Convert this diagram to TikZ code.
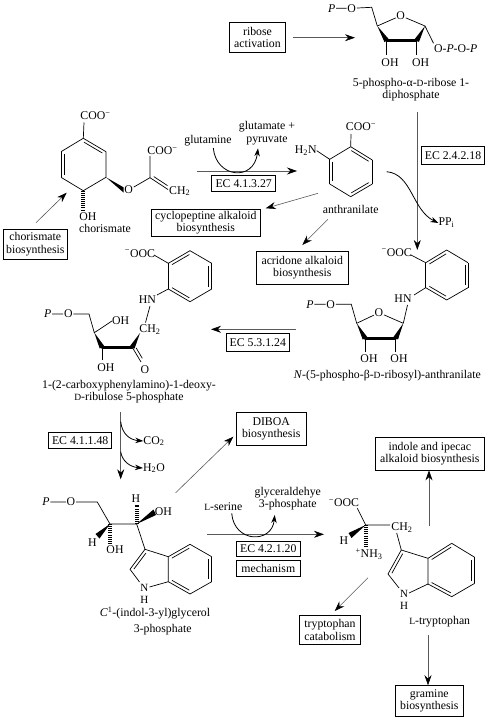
\documentclass[tikz,border=0pt]{standalone}
\usepackage{fontspec}
\setmainfont{Liberation Serif}
\usepackage{tikz}
\usetikzlibrary{arrows.meta,positioning,calc}
\newcommand{\smcap}[1]{{\fontsize{9.5}{9.5}\selectfont #1}}
\newcommand{\minus}{\textsuperscript{−}}
\newcommand{\dbond}[2]{\draw[bond] (#1) -- (#2); \draw[bond, shorten <=2.5pt, shorten >=2.5pt] ($(#1)!3pt!90:(#2)$) -- ($(#2)!3pt!-90:(#1)$);}
\newcommand{\wbond}[2]{\fill (#1) -- ($(#2)!2.6pt!90:(#1)$) -- ($(#2)!2.6pt!-90:(#1)$) -- cycle;}

\begin{document}
\begin{tikzpicture}[x=1pt, y=-1pt,
every node/.style={font=\fontsize{11.8}{12.4}\selectfont, text=black},
box/.style={draw, line width=0.8pt, align=center, inner sep=0pt},
lbl/.style={align=center, inner sep=0pt},
atom/.style={inner sep=0.6pt},
nh/.style={align=center, inner sep=0pt, font=\fontsize{11}{12}\selectfont},
bond/.style={line width=0.7pt},
bold/.style={line width=3pt, line cap=round},
hash/.style={line width=4pt, dash pattern=on 0.8pt off 1.3pt},
arrow/.style={-{Stealth[length=10pt,width=7pt,black]}, draw=black!65, line width=0.6pt},
curve/.style={-{Stealth[length=8pt,width=5.5pt,black]}, line width=0.8pt}
]
\useasboundingbox (0,0) rectangle (488,719);

% boxes
\node[box, minimum width=64.7, minimum height=30] (chobox) at (35.3,244) {chorismate\\biosynthesis};
\node[box, minimum width=56.4, minimum height=30] (ribbox) at (257.5,37.7) {ribose\\activation};
\node[box, minimum width=108.3, minimum height=27.7] (cycbox) at (205.8,222.8) {cyclopeptine alkaloid\\biosynthesis};
\node[box, minimum width=91.3, minimum height=33] (acrbox) at (302.3,267.5) {acridone alkaloid\\biosynthesis};
\node[box, minimum width=70.3, minimum height=32.7] (dibbox) at (271.2,428.7) {DIBOA\\biosynthesis};
\node[box, minimum width=108.3, minimum height=32.3] (indbox) at (429.8,453.8) {indole and ipecac\\alkaloid biosynthesis};
\node[box, minimum width=61.4, minimum height=29.7] (trpbox) at (330,629.8) {tryptophan\\catabolism};
\node[box, minimum width=68, minimum height=30.3] (grabox) at (429.3,700.8) {gramine\\biosynthesis};

% enzyme labels
\node[box, minimum width=64, minimum height=16] (ec1) at (243.7,183.7) {EC 4.1.3.27};
\node[box, minimum width=63.4, minimum height=17.3] (ec2) at (453,155.3) {EC 2.4.2.18};
\node[box, minimum width=63.7, minimum height=17.7] (ec3) at (257.8,342.2) {EC 5.3.1.24};
\node[box, minimum width=63, minimum height=16] (ec4) at (80.2,440.3) {EC 4.1.1.48};
\node[box, minimum width=63.3, minimum height=15.7] (ec5) at (268.3,548.8) {EC 4.2.1.20};
\node[box, minimum width=63.3, minimum height=16] (ec6) at (268.3,568) {mechanism};

% side products
\node[lbl] (glu) at (208,141) {glutamine};
\node[lbl] (gpy) at (267,133.3) {glutamate +\\pyruvate};
\node[lbl] (ppi) at (446.5,223) {PP\textsubscript{i}};
\node[lbl] (cotwo) at (154,441) {CO\textsubscript{2}};
\node[lbl] (htwo) at (154,468) {H\textsubscript{2}O};
\node[lbl] (ser) at (223.3,506.7) {\smcap{L}-serine};
\node[lbl] (gap) at (287.8,498.7) {glyceraldehye\\3-phosphate};

% captions
\node[lbl] (capcho) at (105,228.7) {chorismate};
\node[lbl] (capant) at (350.7,209.3) {anthranilate};
\node[lbl] (capprpp) at (411,89.5) {5-phospho-α-\smcap{D}-ribose 1-\\diphosphate};
\node[lbl] (capnpr) at (387.3,375.7) {\textit{N}-(5-phospho-β-\smcap{D}-ribosyl)-anthranilate};
\node[lbl] (capcdrp) at (129,391.5) {1-(2-carboxyphenylamino)-1-deoxy-\\\smcap{D}-ribulose 5-phosphate};
\node[lbl] (capigp) at (155,613.3) {\textit{C}\textsuperscript{1}-(indol-3-yl)glycerol};
\node[lbl, below=4.5pt of capigp.south, xshift=7.7pt] (capigpb) {3-phosphate};
\node[lbl] (captrp) at (439.7,621.3) {\smcap{L}-tryptophan};

% chorismate
\coordinate (c1) at (83.3,138.3);
\coordinate (c2) at (61,151.7);
\coordinate (c3) at (61,177.3);
\coordinate (c4) at (83.3,190.7);
\coordinate (c5) at (106,177.3);
\coordinate (c6) at (106,151.7);
\coordinate (c7) at (150,177.7);
\coordinate (c8) at (168,189.5);
\node[lbl] (ccoo) at (95.5,116) {COO\minus};
\node[lbl] (ccoob) at (162.5,151) {COO\minus};
\node[atom] (co) at (128.7,190) {O};
\node[lbl, anchor=west] (cch) at (169,191) {CH\textsubscript{2}};
\node[lbl] (coh) at (88,217) {OH};
\draw[bond] (c1) -- (84,122.5);
\draw[bond] (c1) -- (c2);
\dbond{c2}{c3}
\draw[bond] (c3) -- (c4) -- (c5) -- (c6);
\dbond{c6}{c1}
\fill (c5) -- ($(co.west)+(0,-2.6)$) -- ($(co.west)+(0,2.6)$) -- cycle;
\draw[bond] (co) -- (c7) -- (150,156);
\dbond{c7}{c8}
\draw[hash] (c4) -- (83.3,210);

% anthranilate
\coordinate (a1) at (350.7,146.7);
\coordinate (a2) at (329.7,159.3);
\coordinate (a3) at (329.7,184);
\coordinate (a4) at (350.7,196.7);
\coordinate (a5) at (372.3,184);
\coordinate (a6) at (372.3,160);
\node[lbl] (acoo) at (361,126.7) {COO\minus};
\node[lbl] (anh) at (305.7,150.7) {H\textsubscript{2}N};
\draw[bond] (a1) -- (351,134);
\draw[bond] (a2) -- (anh.east);
\draw[bond] (a1) -- (a2);
\dbond{a2}{a3}
\draw[bond] (a3) -- (a4);
\dbond{a4}{a5}
\draw[bond] (a5) -- (a6);
\dbond{a6}{a1}

% ribose phosphate
\coordinate (r1) at (425,26);
\coordinate (r2) at (416.7,40.7);
\coordinate (r3) at (386.7,40.7);
\coordinate (r4) at (377.3,26);
\coordinate (r5) at (371.7,7.3);
\node[atom] (rp) at (331.7,8.3) {\textit{P}};
\node[atom] (ro) at (351.7,8.3) {O};
\node[atom] (rq) at (400.7,15.7) {O};
\node[lbl] (rpp) at (455.7,48.7) {O-\textit{P}-O-\textit{P}};
\node[lbl] (roha) at (390,62.3) {OH};
\node[lbl] (rohb) at (420.7,62.3) {OH};
\draw[bond] (rp) -- (ro) -- (r5) -- (r4) -- (rq) -- (r1) -- (433.5,43.3);
\wbond{r4}{r3}
\draw[bold] (r3) -- (r2);
\wbond{r1}{r2}
\draw[bond] (r3) -- (386.7,55);
\draw[bond] (r2) -- (416.7,55);

% N-(5-phosphoribosyl)anthranilate
\coordinate (n1) at (425.7,262.7);
\coordinate (n2) at (446.7,250);
\coordinate (n3) at (468,262.7);
\coordinate (n4) at (468,287.7);
\coordinate (n5) at (446.7,300);
\coordinate (n6) at (425.7,287.7);
\coordinate (s1) at (403.3,323.3);
\coordinate (s2) at (395.7,338.3);
\coordinate (s3) at (365,338.3);
\coordinate (s4) at (356.7,323.3);
\coordinate (s5) at (351.3,304.3);
\node[lbl] (ncoo) at (396.7,252.3) {\minus OOC};
\node[lbl] (nhn) at (403,298.3) {HN};
\node[atom] (np) at (310,304.3) {\textit{P}};
\node[atom] (no) at (330.7,304.3) {O};
\node[atom] (nq) at (379,312.7) {O};
\node[lbl] (noha) at (369,359) {OH};
\node[lbl] (nohb) at (399,359) {OH};
\draw[bond] (n1) -- (411,255);
\draw[bond] (n6) -- (414,295);
\draw[bond] (407.5,305) -- (s1);
\draw[bond] (n1) -- (n6);
\draw[bond] (n2) -- (n3);
\dbond{n6}{n5}
\dbond{n4}{n3}
\draw[bond] (n5) -- (n4);
\dbond{n2}{n1}
\draw[bond] (np) -- (no) -- (s5) -- (s4) -- (nq) -- (s1);
\wbond{s4}{s3}
\draw[bold] (s3) -- (s2);
\wbond{s1}{s2}
\draw[bond] (s3) -- (365,351.5);
\draw[bond] (s2) -- (395.7,351.5);

% 1-(2-carboxyphenylamino)-1-deoxyribulose 5-phosphate
\coordinate (d1) at (168.3,263.3);
\coordinate (d2) at (190,250.7);
\coordinate (d3) at (211.7,263.3);
\coordinate (d4) at (211.7,289);
\coordinate (d5) at (190,301.7);
\coordinate (d6) at (168.3,289);
\coordinate (e1) at (94.3,332.7);
\coordinate (e2) at (102,347.3);
\coordinate (e3) at (132.3,347.3);
\coordinate (e4) at (140,333);
\coordinate (e5) at (89,314);
\coordinate (e6) at (141,362);
\node[lbl] (dcoo) at (140,253.3) {\minus OOC};
\node[lbl] (dhn) at (147.3,299.3) {HN};
\node[atom] (dp) at (47.7,314) {\textit{P}};
\node[atom] (do) at (68.3,314) {O};
\node[lbl] (doha) at (120.7,321) {OH};
\node[lbl] (dohb) at (106,367.7) {OH};
\node[atom] (dq) at (145,369.3) {O};
\node[lbl] (dch) at (150,329.3) {CH\textsubscript{2}};
\draw[bond] (d1) -- (154,255);
\draw[bond] (d6) -- (157,295);
\draw[bond] (150,306) -- (145.5,322.5);
\draw[bond] (d1) -- (d6);
\dbond{d6}{d5}
\draw[bond] (d5) -- (d4);
\dbond{d4}{d3}
\draw[bond] (d3) -- (d2);
\dbond{d2}{d1}
\draw[bond] (dp) -- (do) -- (e5) -- (e1) -- (doha.west);
\wbond{e1}{e2}
\draw[bold] (e2) -- (e3);
\wbond{e4}{e3}
\draw[bond] (e2) -- (102,360);
\dbond{e3}{e6}

% indol-3-yl glycerol phosphate
\coordinate (i1) at (168.3,556.7);
\coordinate (i2) at (190,544.3);
\coordinate (i3) at (211.7,556.7);
\coordinate (i4) at (211.7,581.7);
\coordinate (i5) at (190,594);
\coordinate (i6) at (168.3,581.7);
\coordinate (i7) at (145,549.3);
\coordinate (i8) at (130,569.3);
\coordinate (g1) at (97.3,502);
\coordinate (g2) at (110,524);
\coordinate (g3) at (136.7,524);
\node[atom] (gp) at (46,502) {\textit{P}};
\node[atom] (go) at (71,502) {O};
\node[lbl] (gha) at (136,498.3) {H};
\node[lbl] (goha) at (163.3,511.7) {OH};
\node[lbl] (ghb) at (92.3,542.7) {H};
\node[lbl] (gohb) at (115,550) {OH};
\node[nh] (in) at (144.3,593.5) {N\\H};
\draw[bond] (gp) -- (go) -- (g1) -- (g2) -- (g3) -- (i7);
\draw[hash] (g3) -- (136.7,505);
\fill (g3) -- (153.5,509.5) -- (156,515) -- cycle;
\fill (g2) -- (95.5,534) -- (99.5,538.5) -- cycle;
\draw[hash] (g2) -- (110,543);
\dbond{i7}{i8}
\draw[bond] (i7) -- (i1);
\draw[bond] (i8) -- (139.5,582);
\draw[bond] (149.5,587) -- (i6) -- (i1);
\dbond{i2}{i1}
\draw[bond] (i2) -- (i3);
\dbond{i4}{i3}
\draw[bond] (i4) -- (i5);
\dbond{i6}{i5}

% tryptophan
\coordinate (t1) at (428,558.3);
\coordinate (t2) at (451.7,543.3);
\coordinate (t3) at (474.7,557.3);
\coordinate (t4) at (474.7,583.3);
\coordinate (t5) at (451.7,596.7);
\coordinate (t6) at (428,584);
\coordinate (t7) at (401.3,550);
\coordinate (t8) at (388,574);
\coordinate (t9) at (365.7,525);
\node[lbl] (tcoo) at (344,502.7) {\minus OOC};
\node[lbl] (tch) at (402,527.3) {CH\textsubscript{2}};
\node[lbl] (th) at (344,540.7) {H};
\node[lbl] (tnh) at (369,554) {\textsuperscript{+}NH\textsubscript{3}};
\node[nh] (tn) at (404,599.5) {N\\H};
\draw[bond] (357.3,508.3) -- (t9) -- (390,525);
\draw[bond] (396.7,533) -- (t7);
\fill (t9) -- (348.5,533) -- (351.5,538) -- cycle;
\draw[hash] (t9) -- (365.7,547);
\dbond{t7}{t8}
\draw[bond] (t7) -- (t1);
\draw[bond] (t8) -- (399,588);
\draw[bond] (409,593) -- (t6) -- (t1);
\dbond{t2}{t1}
\draw[bond] (t2) -- (t3);
\dbond{t4}{t3}
\draw[bond] (t4) -- (t5);
\dbond{t6}{t5}

% free ends of the pathway arrows
\coordinate (e1a) at (293.3,37.7);
\coordinate (e1b) at (355,37.7);
\coordinate (e2a) at (66.7,192.7);
\coordinate (e3a) at (197,171);
\coordinate (e3b) at (297,171);
\coordinate (e4a) at (417.3,111.7);
\coordinate (e4b) at (417.3,250);
\coordinate (e5a) at (318,193.3);
\coordinate (e5b) at (265.7,208.3);
\coordinate (e6a) at (328,219.3);
\coordinate (e7a) at (295.7,329.3);
\coordinate (e7b) at (211,329.3);
\coordinate (e8a) at (120.7,411.7);
\coordinate (e8b) at (120.7,479.3);
\coordinate (e9a) at (175.7,492.7);
\coordinate (e10a) at (207.3,534.3);
\coordinate (e10b) at (324,534.3);
\coordinate (e11a) at (368,577.7);
\coordinate (e12a) at (429,525.7);
\coordinate (e13a) at (428,635);

% pathway arrows
\draw[arrow] (e1a) -- (e1b);
\draw[arrow] (36,222.7) -- (e2a);
\draw[arrow] (e3a) -- (e3b);
\draw[arrow] (e4a) -- (e4b);
\draw[arrow] (e5a) -- (e5b);
\draw[arrow] (e6a) -- (302.3,245);
\draw[arrow] (e7a) -- (e7b);
\draw[arrow] (e8a) -- (e8b);
\draw[arrow] (e9a) -- (233.3,436.7);
\draw[arrow] (e10a) -- (e10b);
\draw[arrow] (e11a) -- (334.7,611);
\draw[arrow] (e12a) -- (indbox.south -| e12a);
\draw[arrow] (e13a) -- (grabox.north -| e13a);

% side reactions
\draw[curve] (213.3,148) .. controls (216,178) and (254,182) .. (258,148.3);
\draw[curve] (386.7,171.7) .. controls (412,174) and (412,210) .. (ppi.west);
\draw[curve] (120.7,421.7) .. controls (122,434) and (130,440) .. (cotwo.west);
\draw[curve] (120.7,451.7) .. controls (122,461) and (130,467) .. (htwo.west);
\draw[curve] (231.7,513.3) .. controls (234,543) and (272,544) .. (274.7,515);
\end{tikzpicture}
\end{document}
